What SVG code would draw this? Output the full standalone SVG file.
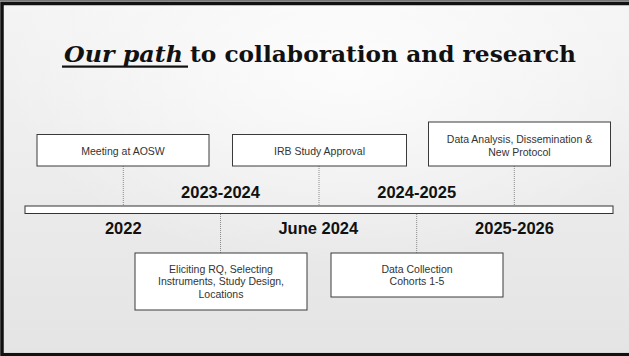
<svg xmlns="http://www.w3.org/2000/svg" width="629" height="356" viewBox="0 0 629 356">
  <defs>
    <linearGradient id="bg" x1="0" y1="0" x2="0" y2="1">
      <stop offset="0" stop-color="#f4f4f4"/>
      <stop offset="1" stop-color="#e4e4e4"/>
    </linearGradient>
    <radialGradient id="hl" cx="0.55" cy="0.2" r="0.55">
      <stop offset="0" stop-color="#ffffff" stop-opacity="0.8"/>
      <stop offset="1" stop-color="#ffffff" stop-opacity="0"/>
    </radialGradient>
    <style>
      .box { fill: #ffffff; stroke: #3a3a3a; stroke-width: 1; }
      .lbl { font-family: "Liberation Sans", Arial, sans-serif; font-size: 10.5px; fill: #333333; text-anchor: middle; }
      .yr { font-family: "Liberation Sans", Arial, sans-serif; font-size: 16.5px; font-weight: bold; fill: #111111; text-anchor: middle; }
      .dot { stroke: #8a8a8a; stroke-width: 1; stroke-dasharray: 1 1; fill: none; }
      .ttl { font-family: "DejaVu Serif", "Liberation Serif", serif; font-size: 23px; font-weight: bold; fill: #111111; }
    </style>
  </defs>

  <rect x="0" y="0" width="629" height="356" fill="url(#bg)"/>
  <rect x="0" y="0" width="629" height="356" fill="url(#hl)"/>
  <rect x="0" y="0" width="629" height="1.5" fill="#777777"/>
  <rect x="2" y="3.5" width="680" height="351.2" fill="none" stroke="#111111" stroke-width="3.5"/>

  <g id="title">
    <text class="ttl" x="64" y="62" font-style="italic" textLength="119" lengthAdjust="spacingAndGlyphs">Our path</text>
    <rect x="62" y="65.5" width="126" height="2.2" fill="#111111"/>
    <text class="ttl" x="190" y="62" textLength="386" lengthAdjust="spacingAndGlyphs">to collaboration and research</text>
  </g>

  <g id="connectors">
    <line class="dot" x1="123.3" y1="166" x2="123.3" y2="206"/>
    <line class="dot" x1="319" y1="166" x2="319" y2="206"/>
    <line class="dot" x1="514.3" y1="166" x2="514.3" y2="206"/>
    <line class="dot" x1="220.5" y1="214" x2="220.5" y2="253"/>
    <line class="dot" x1="416.7" y1="214" x2="416.7" y2="253"/>
  </g>

  <g id="timeline">
    <rect x="25" y="206" width="588" height="7.5" fill="#ffffff" stroke="#333333" stroke-width="1"/>
  </g>

  <g id="years">
    <text class="yr" x="220.5" y="198.3">2023-2024</text>
    <text class="yr" x="416.7" y="197.5">2024-2025</text>
    <text class="yr" x="123.3" y="234">2022</text>
    <text class="yr" x="318.3" y="234">June 2024</text>
    <text class="yr" x="514.5" y="233.5">2025-2026</text>
  </g>

  <g id="node-meeting">
    <rect class="box" x="37" y="134.5" width="172" height="31.5"/>
    <text class="lbl" x="123" y="155">Meeting at AOSW</text>
  </g>

  <g id="node-irb">
    <rect class="box" x="232.5" y="134.5" width="174" height="31.5"/>
    <text class="lbl" x="319.5" y="155">IRB Study Approval</text>
  </g>

  <g id="node-analysis">
    <rect class="box" x="428.5" y="122" width="182" height="44"/>
    <text class="lbl" x="519.5" y="142.5">Data Analysis, Dissemination &amp;</text>
    <text class="lbl" x="519.5" y="155.8">New Protocol</text>
  </g>

  <g id="node-eliciting">
    <rect class="box" x="135" y="253" width="172" height="57"/>
    <text class="lbl" x="221" y="272.5">Eliciting RQ, Selecting</text>
    <text class="lbl" x="221" y="285.2">Instruments, Study Design,</text>
    <text class="lbl" x="221" y="297.9">Locations</text>
  </g>

  <g id="node-collection">
    <rect class="box" x="331" y="253" width="172" height="44"/>
    <text class="lbl" x="417" y="272.5">Data Collection</text>
    <text class="lbl" x="417" y="285.2">Cohorts 1-5</text>
  </g>
</svg>
